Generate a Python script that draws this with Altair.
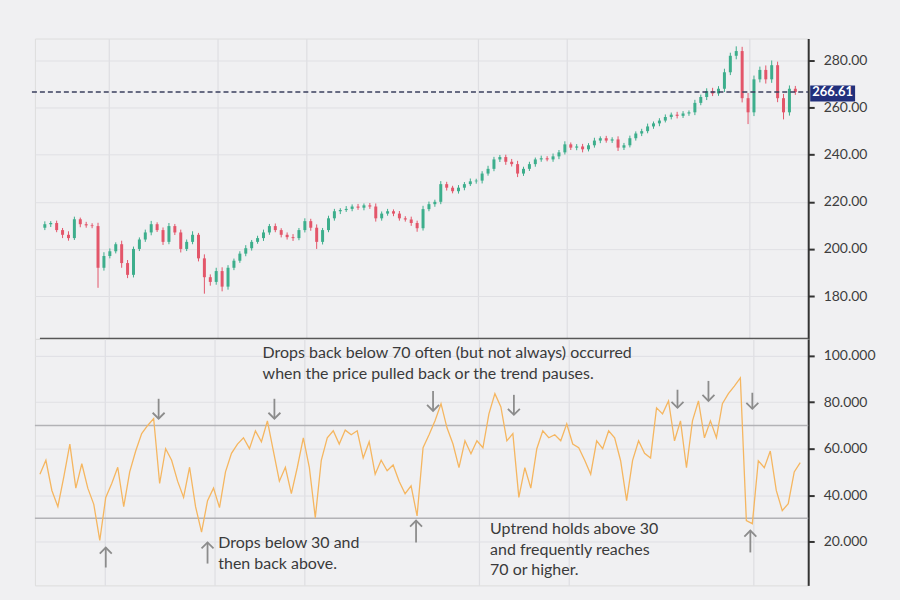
import altair as alt
import numpy as np
import pandas as pd

# ---------------- data ----------------
close = [
    210.5, 211, 208, 206, 204.6, 212.6, 210.5, 210, 209.7, 192,
    197, 199, 202, 194, 189, 200, 204, 207, 210.5, 208,
    203, 209.7, 207, 200, 203, 206, 196, 188, 186, 190.6,
    184, 192, 195, 198, 200.3, 203, 204.6, 207, 209.7, 208,
    206, 205, 204.6, 208, 211.8, 209, 203, 208, 213, 216,
    216.5, 217, 218, 217.5, 218.5, 218, 213, 215, 216, 215,
    213, 212.5, 211, 208.8, 216.9, 219, 220, 227.5, 226, 224.5,
    226, 227.5, 228.7, 229, 232, 234, 238, 239, 237, 236,
    232, 234, 236, 238, 238.5, 238, 239.3, 241, 244.4, 243,
    243.5, 242.3, 244, 246, 247, 246, 246.5, 243, 244, 247,
    249, 250, 252, 253.3, 254.5, 256, 257, 256.5, 257.5, 258,
    262, 264.5, 267, 266, 268, 275, 282, 284, 264, 258,
    272, 276, 272, 278, 264, 258, 268, 266.61,
]
first_open = 209.0
wick_up = [
    1.2, 0.8, 1.0, 0.9, 1.5, 1.1, 0.7, 1.0, 0.9, 1.4,
    1.6, 1.2, 0.8, 1.5, 1.3, 1.0, 0.9, 1.2, 1.4, 0.8,
    1.1, 1.3, 0.9, 1.2, 1.0, 1.5, 0.8, 1.7, 1.2, 1.4,
    1.6, 1.1, 0.9, 1.0, 1.3, 0.8, 1.0, 1.2, 0.9, 1.1,
    0.8, 1.0, 1.3, 0.9, 1.2, 1.0, 1.4, 0.9, 1.1, 1.0,
    0.8, 1.2, 0.9, 1.1, 0.8, 1.0, 1.3, 0.9, 1.0, 0.8,
    1.1, 0.9, 1.2, 1.0, 1.4, 1.1, 0.9, 1.3, 1.0, 0.8,
    1.1, 0.9, 1.2, 0.8, 1.0, 1.3, 1.1, 0.9, 1.0, 1.2,
    1.4, 0.9, 1.0, 0.8, 1.1, 0.9, 1.2, 1.0, 1.3, 0.8,
    1.0, 1.1, 0.9, 1.2, 0.8, 1.0, 0.9, 1.3, 1.0, 1.1,
    0.9, 1.0, 1.2, 0.8, 1.0, 1.1, 0.9, 1.2, 1.0, 0.8,
    1.3, 1.0, 1.2, 1.4, 1.1, 1.5, 1.3, 2.0, 1.8, 2.2,
    1.6, 1.4, 1.9, 2.0, 1.5, 1.8, 1.4, 1.2,
]
wick_dn = [
    1.0, 1.2, 0.9, 1.4, 1.1, 0.8, 1.3, 1.0, 0.9, 8.5,
    1.2, 1.0, 0.9, 2.0, 1.4, 1.1, 0.9, 1.0, 1.2, 0.8,
    1.3, 1.0, 1.1, 1.5, 0.9, 1.0, 1.3, 7.0, 1.6, 1.2,
    2.0, 1.3, 1.0, 0.9, 1.1, 1.0, 0.8, 1.2, 1.0, 0.9,
    1.1, 1.0, 1.2, 0.9, 1.0, 1.3, 3.0, 1.1, 0.9, 1.0,
    1.2, 0.8, 1.0, 0.9, 1.1, 1.0, 1.4, 1.0, 0.9, 1.1,
    1.0, 0.9, 1.2, 1.5, 1.0, 0.9, 1.1, 1.0, 1.2, 0.9,
    1.0, 1.1, 0.8, 1.0, 1.2, 0.9, 1.0, 1.1, 1.3, 1.0,
    1.5, 1.0, 0.9, 1.1, 1.0, 0.8, 1.0, 1.2, 0.9, 1.0,
    1.1, 1.3, 0.9, 1.0, 1.1, 0.9, 1.0, 1.4, 1.0, 0.9,
    1.0, 1.1, 0.9, 1.0, 1.2, 0.8, 1.0, 1.1, 0.9, 1.0,
    1.2, 1.0, 1.3, 1.1, 1.0, 1.4, 1.2, 1.5, 1.8, 5.0,
    1.6, 1.3, 1.8, 1.5, 1.7, 3.0, 1.4, 1.2,
]
rsi = [
    49, 55, 42, 35, 48, 62, 43, 53.5, 43, 36,
    20.5, 39, 45, 52, 35, 50, 59, 66.5, 70, 73,
    45, 60, 55, 46, 39, 52, 35, 24, 37.6, 43,
    34.6, 50, 58, 62, 64.7, 60, 67.7, 63, 72, 59,
    46, 52, 40.6, 52, 64.7, 52, 30.3, 55, 64.7, 67.7,
    62, 68, 66, 67.7, 56, 63, 49, 55, 50.5, 53,
    46, 40.6, 44, 31, 60.4, 66, 72, 79.4, 69, 62,
    51.8, 63.4, 57.8, 63.4, 60.4, 75, 83.7, 78, 63.4, 66.5,
    39, 51.8, 43, 60, 67.7, 64.7, 66, 63.4, 70.7, 62,
    60.4, 55, 49, 63.4, 60, 67.7, 64.7, 54.8, 37.6, 55,
    63.4, 58, 56, 77.6, 75, 80.6, 63.4, 72, 51.8, 72,
    80.6, 64.7, 72, 64.7, 79.4, 83.7, 87, 90.5, 29, 27.7,
    54.8, 51.8, 59, 42, 33.3, 36.3, 50, 54,
]
last_price = 266.61
price_ticks = [180, 200, 220, 240, 260, 280]
rsi_ticks = [20, 40, 60, 80, 100]
rsi_levels = [70, 30]
grid_x = [10.8, 29.2, 44.2, 73.3, 88.3, 119.2]

# arrows: x index, tip value, tail value, direction
arrow_x = [19.83, 39.17, 65.67, 79.17, 106.5, 111.67, 119.0, 11.0, 28.0, 62.83, 118.67]
arrow_tip = [72.9, 72.9, 76.3, 74.6, 77.6, 80.6, 77.2, 17.4, 19.6, 29.0, 24.7]
arrow_tail = [81.5, 81.5, 84.9, 83.2, 85.4, 89.2, 84.1, 8.8, 10.5, 19.6, 15.3]
arrow_dir = ["down"] * 7 + ["up"] * 4

notes = [
    "Drops back below 70 often (but not always) occurred\nwhen the price pulled back or the trend pauses.",
    "Drops below 30 and\nthen back above.",
    "Uptrend holds above 30\nand frequently reaches\n70 or higher.",
]
note_x = [37.2, 29.8, 75.2]
note_y = [104.8, 22.6, 29.0]

# ---------------- tables ----------------
n = len(close)
idx = list(range(n))
opens = [first_open] + close[:-1]
df = pd.DataFrame({"i": idx, "open": opens, "close": close})
df["high"] = df[["open", "close"]].max(axis=1) + np.array(wick_up)
df["low"] = df[["open", "close"]].min(axis=1) - np.array(wick_dn)
df["dir"] = np.where(df["close"] >= df["open"], "up", "down")

rsi_df = pd.DataFrame({"i": idx, "rsi": rsi})
lvl_df = pd.DataFrame({"level": rsi_levels})
arr_df = pd.DataFrame({"ax": arrow_x, "tip": arrow_tip, "tail": arrow_tail, "dir": arrow_dir})
note_df = pd.DataFrame({"nx": note_x, "ny": note_y, "txt": notes})
last_df = pd.DataFrame({"p": [last_price], "lbl": [f"{last_price:.2f}"]})

W = 775
H1 = 301
H2 = 247
FONT = "Lato"
BG = "#f0f0f2"
xscale = alt.Scale(domain=[-0.833, 128.333], nice=False, zero=False)
xaxis = alt.Axis(labels=False, ticks=False, domain=False, grid=True, values=grid_x,
                 gridColor="#dedee2", gridWidth=1.2, title=None)
pscale = alt.Scale(domain=[161.8, 289.3], nice=False, zero=False)
rscale = alt.Scale(domain=[1.1, 107.3], nice=False, zero=False)

axis_common = dict(orient="right", title=None, domainColor="#333333", domainWidth=2,
                   tickColor="#333333", tickSize=6, tickWidth=2, labelPadding=9,
                   labelFontSize=14, labelColor="#3d3d3d", labelFont=FONT,
                   gridColor="#e0e0e4", grid=True)

color_scale = alt.Scale(domain=["up", "down"], range=["#3dae8c", "#e3566a"])

base = alt.Chart(df)
wicks = base.mark_rule(strokeWidth=1).encode(
    x=alt.X("i:Q", scale=xscale, axis=xaxis),
    y=alt.Y("low:Q", scale=pscale,
            axis=alt.Axis(values=price_ticks, format=".2f", **axis_common)),
    y2="high:Q",
    color=alt.Color("dir:N", scale=color_scale, legend=None),
)
bodies = base.mark_bar(size=3).encode(
    x=alt.X("i:Q", scale=xscale),
    y=alt.Y("open:Q", scale=pscale),
    y2="close:Q",
    color=alt.Color("dir:N", scale=color_scale, legend=None),
)
lastline = alt.Chart(last_df).mark_rule(strokeDash=[5, 3], color="#3a3f5e", strokeWidth=1.6).encode(
    y=alt.Y("p:Q", scale=pscale), x=alt.value(-3), x2=alt.value(W)
)
lastbox = alt.Chart(last_df).transform_calculate(
    pt="datum.p + 2.8", pb="datum.p - 4.0"
).mark_rect(color="#22307c").encode(
    y=alt.Y("pt:Q", scale=pscale), y2="pb:Q",
    x=alt.value(W + 2), x2=alt.value(W + 47),
)
lasttext = alt.Chart(last_df).mark_text(color="white", font=FONT, fontSize=13,
                                        fontWeight="bold", align="center").encode(
    y=alt.Y("p:Q", scale=pscale), x=alt.value(W + 24.5), text="lbl:N"
)
sep = alt.Chart(last_df).mark_rule(color="#4a4a4a", strokeWidth=2.2).encode(
    x=alt.value(5), x2=alt.value(W), y=alt.value(H1)
)
top = alt.layer(wicks, bodies, lastline, lastbox, lasttext, sep).properties(width=W, height=H1)

levels = alt.Chart(lvl_df).mark_rule(color="#b2b2b6", strokeWidth=1.6).encode(
    y=alt.Y("level:Q", scale=rscale,
            axis=alt.Axis(values=rsi_ticks, format=".3f", **axis_common)),
    x=alt.value(0), x2=alt.value(W),
)
rline = alt.Chart(rsi_df).mark_line(color="#f5b660", strokeWidth=1.3).encode(
    x=alt.X("i:Q", scale=xscale, axis=xaxis),
    y=alt.Y("rsi:Q", scale=rscale),
)
shafts = alt.Chart(arr_df).mark_rule(color="#8c8c8c", strokeWidth=1.8).encode(
    x=alt.X("ax:Q", scale=xscale), y=alt.Y("tip:Q", scale=rscale), y2="tail:Q"
)
heads = alt.Chart(arr_df).mark_point(filled=False, size=144, strokeWidth=1.8, opacity=1,
                                     color="#8c8c8c").encode(
    x=alt.X("ax:Q", scale=xscale), y=alt.Y("tip:Q", scale=rscale),
    shape=alt.Shape("dir:N", scale=alt.Scale(domain=["down", "up"],
                                             range=["M-1,-1L0,0L1,-1", "M-1,1L0,0L1,1"]),
                    legend=None),
)
texts = alt.Chart(note_df).mark_text(align="left", baseline="top", font=FONT, fontSize=16,
                                     color="#3a3a3a", lineBreak="\n", lineHeight=21).encode(
    x=alt.X("nx:Q", scale=xscale), y=alt.Y("ny:Q", scale=rscale), text="txt:N"
)
bottom = alt.layer(levels, rline, shafts, heads, texts).properties(width=W, height=H2)

chart = alt.vconcat(top, bottom, spacing=0, bounds="flush").properties(
    padding={"left": 30, "top": 37, "right": 24, "bottom": 15},
    background=BG,
).configure_view(strokeWidth=0, stroke="transparent").configure(font=FONT)

chart.save("out.html", embed_options={"renderer": "svg", "actions": False})
